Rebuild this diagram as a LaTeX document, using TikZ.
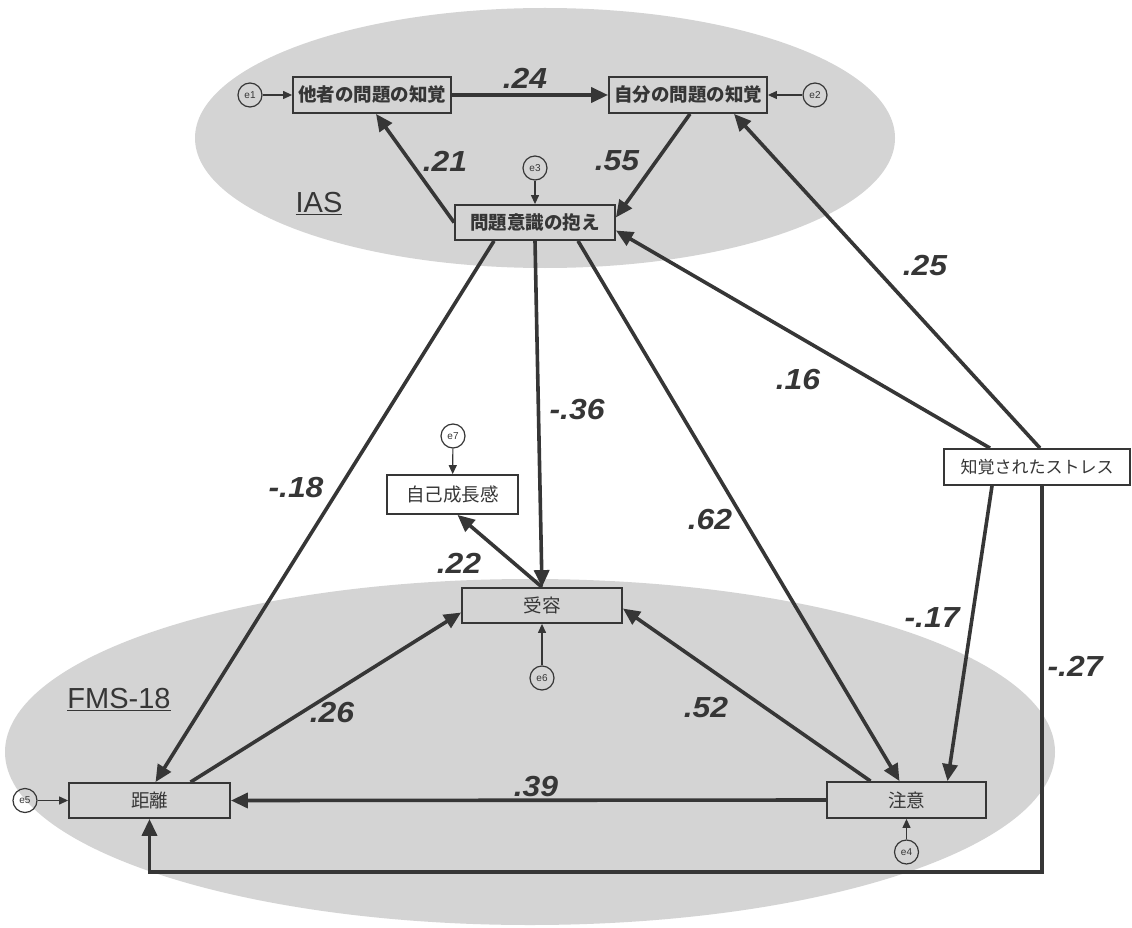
\documentclass[tikz,border=0pt]{standalone}
\usepackage{fontspec}
\setmainfont{Liberation Sans}
\newfontfamily\jp{Noto Sans CJK JP}
\newfontfamily\labfont[FakeStretch=1.1]{Liberation Sans}
\usetikzlibrary{arrows.meta}
\definecolor{ink}{HTML}{363636}
\definecolor{ellfill}{HTML}{D4D4D4}
\begin{document}
\begin{tikzpicture}[x=1pt,y=-1pt,
  box/.style={draw=ink, line width=1.8pt, inner sep=0pt, text=ink, font=\jp\fontsize{18.5}{18.5}\selectfont},
  boldbox/.style={box, font=\jp\bfseries\fontsize{18.5}{18.5}\selectfont},
  errc/.style={draw=ink, circle, line width=1.2pt, minimum size=24pt, inner sep=0pt, text=ink, font=\fontsize{10}{10}\selectfont},
  conn/.style={draw=ink, line width=3.6pt, -{Triangle[length=17pt,width=15pt]}},
  econn/.style={draw=ink, line width=1.2pt, -{Triangle[length=9pt,width=8pt]}},
  coef/.style={inner sep=0pt, text=ink, font=\labfont\bfseries\itshape\fontsize{29}{29}\selectfont},
  grp/.style={inner sep=0pt, text=ink, font=\fontsize{29}{29}\selectfont},
]
\useasboundingbox (0,0) rectangle (1132,928);
\fill[white] (0,0) rectangle (1132,928);
% group ellipses
\fill[ellfill] (545,138) ellipse [x radius=350, y radius=130];
\fill[ellfill] (530,752) ellipse [x radius=525, y radius=173];

% observed variables
\node[boldbox, minimum width=158pt, minimum height=36pt] (tasha) at (372,95) {他者の問題の知覚};
\node[boldbox, minimum width=158pt, minimum height=36pt] (jibun) at (688,95) {自分の問題の知覚};
\node[boldbox, minimum width=160pt, minimum height=35pt] (mondai) at (535,222.5) {問題意識の抱え};
\node[box, minimum width=131pt, minimum height=39pt] (jiko) at (452.5,494.5) {自己成長感};
\node[box, minimum width=160pt, minimum height=35pt] (juyou) at (542,605.5) {受容};
\node[box, minimum width=161pt, minimum height=35pt] (kyori) at (149.5,800.5) {距離};
\node[box, minimum width=159pt, minimum height=36pt] (chui) at (906.5,800) {注意};
\node[box, minimum width=186pt, minimum height=36pt, font=\jp\fontsize{17}{17}\selectfont] (stress) at (1037,467) {知覚されたストレス};

% error terms
\node[errc] (e1) at (250,95) {e1};
\node[errc] (e2) at (815,95) {e2};
\node[errc] (e3) at (535,168) {e3};
\node[errc] (e7) at (453,436) {e7};
\node[errc] (e6) at (542,678) {e6};
\node[errc] (e5) at (25,800.5) {e5};
\node[errc] (e4) at (906.5,852) {e4};

\draw[econn] (e1) -- (tasha);
\draw[econn] (e2) -- (jibun);
\draw[econn] (e3) -- (mondai);
\draw[econn] (e7) -- (jiko);
\draw[econn] (e6) -- (juyou);
\draw[econn] (e5) -- (kyori);
\draw[econn] (e4) -- (chui);

% paths
\draw[conn] (tasha) -- (jibun);
\draw[conn] (mondai.west) -- ([xshift=4pt]tasha.south);
\draw[conn] ([xshift=2pt]jibun.south) -- ([yshift=5pt]mondai.east);
\draw[conn] ([xshift=3pt]stress.north) -- ([xshift=46pt]jibun.south);
\draw[conn] ([xshift=-47pt]stress.north) -- ([yshift=-8pt]mondai.east);
\draw[conn] ([xshift=-41pt]mondai.south) -- ([xshift=6pt]kyori.north);
\draw[conn] (mondai.south) -- (juyou.north);
\draw[conn] ([xshift=43pt]mondai.south) -- ([xshift=-7pt]chui.north);
\draw[conn] (juyou.north) -- ([xshift=5pt]jiko.south);
\draw[conn] ([xshift=41pt]kyori.north) -- ([yshift=-7pt]juyou.west);
\draw[conn] ([xshift=-36pt]chui.north) -- ([yshift=-3pt]juyou.east);
\draw[conn] (chui.west) -- (kyori.east);
\draw[conn] ([xshift=-45pt]stress.south) -- ([xshift=41pt]chui.north);
\coordinate (bend) at (1042,872);
\draw[conn] ([xshift=5pt]stress.south) -- (bend) -| (kyori.south);

% coefficients
\node[coef] (c24) at (525,78) {.24};
\node[coef] (c21) at (445,161) {.21};
\node[coef] (c55) at (617,161) {.55};
\node[coef] (c25) at (925,266) {.25};
\node[coef] (c16) at (798,380) {.16};
\node[coef] (c36) at (577,410) {-.36};
\node[coef] (c18) at (296,488) {-.18};
\node[coef] (c62) at (710,520) {.62};
\node[coef] (c22) at (459,563) {.22};
\node[coef] (c17) at (932,618) {-.17};
\node[coef] (c26) at (332,713) {.26};
\node[coef] (c52) at (706,708) {.52};
\node[coef] (c39) at (536,787) {.39};
\node[coef] (c27) at (1075,666) {-.27};

% group labels
\node[grp] (ias) at (319,204) {\underline{IAS}};
\node[grp] (fms) at (119,700) {\underline{FMS-18}};
\end{tikzpicture}
\end{document}
